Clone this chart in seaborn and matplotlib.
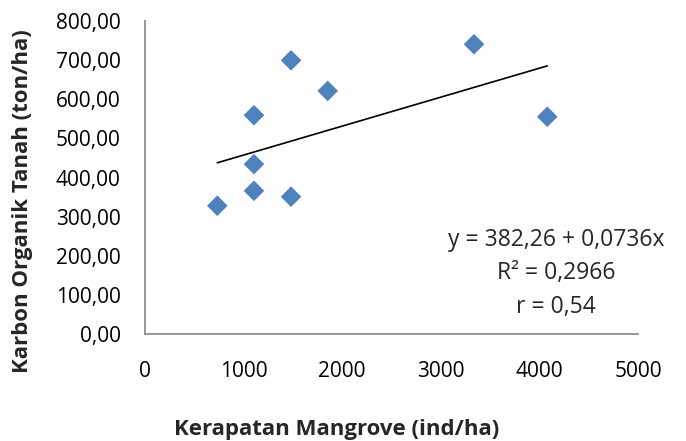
import matplotlib
matplotlib.use('Agg')
import matplotlib.pyplot as plt
import seaborn as sns
import pandas as pd
import numpy as np

# Kerapatan mangrove (ind/ha) vs karbon organik tanah (ton/ha)
kerapatan = [733, 1105, 1105, 1105, 1481, 1481, 1853, 3337, 4080]
karbon = [328, 559, 434, 366, 699, 351, 621, 740, 555]

eq_text = 'y = 382,26 + 0,0736x'
r2_text = 'R² = 0,2966'
r_text = 'r = 0,54'

BLUE = '#4F81BD'
AXIS = '#868686'

sns.set_style('white')
plt.rcParams['font.family'] = ['Open Sans', 'DejaVu Sans']

df = pd.DataFrame({'x': kerapatan, 'y': karbon})

fig = plt.figure(figsize=(6.86, 4.41), dpi=100, facecolor='white')
ax = fig.add_axes([0.2114, 0.242, 0.7186, 0.711])

sns.regplot(data=df, x='x', y='y', ax=ax, ci=None, marker='D',
            scatter_kws={'s': 110, 'color': BLUE, 'edgecolor': 'none', 'alpha': 1, 'zorder': 3},
            line_kws={'color': 'black', 'linewidth': 1.2, 'zorder': 2})

ax.set_xlim(0, 5000)
ax.set_ylim(0, 800)
ax.set_xticks(np.arange(0, 5001, 1000))
ax.set_yticks(np.arange(0, 801, 100))
ax.yaxis.set_major_formatter(plt.FuncFormatter(lambda v, _: f'{v:.2f}'.replace('.', ',')))

for side in ['top', 'right']:
    ax.spines[side].set_visible(False)
for side in ['left', 'bottom']:
    ax.spines[side].set_color(AXIS)
    ax.spines[side].set_linewidth(1.2)
ax.tick_params(axis='both', which='major', direction='out', length=5.5, width=1.2,
               color=AXIS, labelsize=15, labelcolor='black')
ax.tick_params(axis='y', pad=12)
ax.tick_params(axis='x', pad=14)

ax.set_xlabel('')
ax.set_ylabel('')
fig.text(0.491, 0.025, 'Kerapatan Mangrove (ind/ha)', ha='center', va='center',
         fontsize=16, fontweight='bold')
fig.text(0.0335, 0.543, 'Karbon Organik Tanah (ton/ha)', ha='center', va='center',
         rotation=90, fontsize=16, fontweight='bold')

ax.text(0.834, 0.301, eq_text, transform=ax.transAxes, ha='center', va='center', fontsize=16.5)
ax.text(0.834, 0.195, r2_text, transform=ax.transAxes, ha='center', va='center', fontsize=16.5)
ax.text(0.834, 0.088, r_text, transform=ax.transAxes, ha='center', va='center', fontsize=16.5)

plt.savefig('out.png', dpi=100, facecolor='white')
plt.close()
